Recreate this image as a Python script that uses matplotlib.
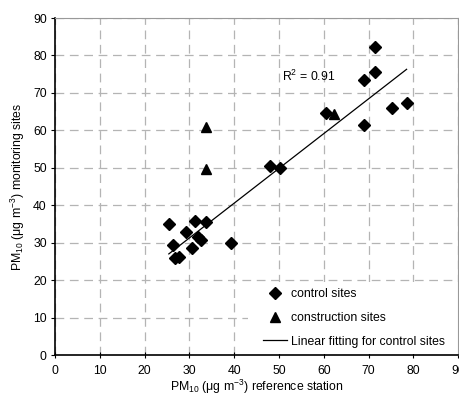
import numpy as np
import matplotlib
matplotlib.use("Agg")
import matplotlib.pyplot as plt
from matplotlib.patches import Rectangle

plt.rcParams['font.family'] = ['Liberation Sans', 'DejaVu Sans']
plt.rcParams['mathtext.fontset'] = 'custom'
plt.rcParams['mathtext.rm'] = 'Liberation Sans'
plt.rcParams['mathtext.it'] = 'Liberation Sans'

## control sites (reference station vs monitoring site)
control_x = [25.4, 31.3, 33.8, 29.3, 26.3, 31.9, 32.6, 30.6, 26.7, 27.6, 39.3,
             48.1, 50.2, 60.4, 71.5, 71.5, 69.1, 75.2, 78.5, 68.9]
control_y = [35.0, 35.9, 35.6, 32.9, 29.3, 31.4, 30.7, 28.7, 26.0, 26.1, 30.0,
             50.6, 49.9, 64.6, 82.2, 75.5, 73.4, 66.1, 67.2, 61.4]
## construction sites
constr_x = [33.6, 33.6, 62.4]
constr_y = [60.8, 49.8, 64.3]
## linear fit, end points
fit_x = [25.4, 78.5]
fit_y = [27.0, 76.3]
r2_label = r'R$^2$ = 0.91'

fs = 8.8
fig = plt.figure(figsize=(4.59, 3.96), dpi=100)
ax = fig.add_axes([0.12, 0.1035, 0.878, 0.851])

ax.set_xlim(0, 90)
ax.set_ylim(0, 90)
ax.set_xticks(np.arange(0, 91, 10))
ax.set_yticks(np.arange(0, 91, 10))
ax.grid(True, color='#b4b4b4', linestyle=(0, (7, 4.5)), linewidth=0.9, zorder=0)
ax.set_axisbelow(True)

# white box behind the legend hides the grid there
ax.add_patch(Rectangle((43, 0.4), 47, 19.2, facecolor='white', edgecolor='none', zorder=1))

ax.plot(control_x, control_y, 'D', color='black', markersize=6, zorder=3, label='control sites')
ax.plot(constr_x, constr_y, '^', color='black', markersize=7, zorder=3, label='construction sites')
ax.plot(fit_x, fit_y, '-', color='black', linewidth=0.9, zorder=2, label='Linear fitting for control sites')

ax.text(50.7, 74.3, r2_label, fontsize=fs, va='center', ha='left')

for s in ['top', 'right']:
    ax.spines[s].set_color('#999999')
ax.spines['left'].set_linewidth(1.2)
ax.spines['bottom'].set_linewidth(1.2)
ax.tick_params(axis='both', labelsize=fs, length=3, width=0.8, color='black', pad=3)
ax.tick_params(axis='x', direction='inout', length=4, pad=5)

ax.set_xlabel(r'PM$_{10}$ ($\mu$g m$^{-3}$) reference station', fontsize=fs, labelpad=0.5)
ax.set_ylabel(r'PM$_{10}$ ($\mu$g m$^{-3}$) monitoring sites', fontsize=fs, labelpad=4)

ax.legend(loc='lower left', bbox_to_anchor=(0.485, -0.014), frameon=False, fontsize=fs,
          handlelength=2.0, handletextpad=0.3, labelspacing=0.95, borderpad=0.5)

fig.savefig('out.png', dpi=100)
